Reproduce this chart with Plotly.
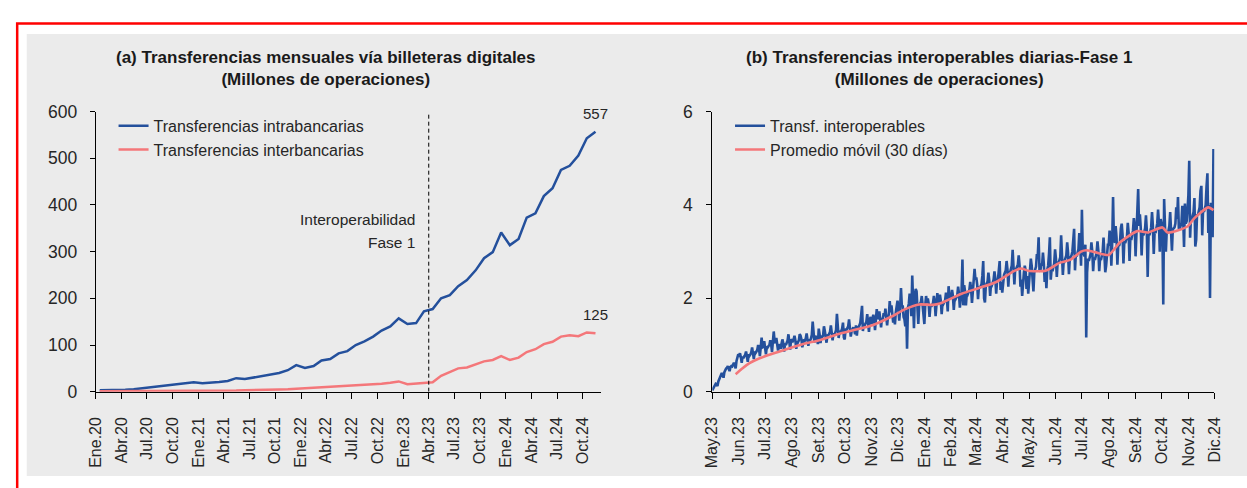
import pandas as pd
import plotly.graph_objects as go

W, H = 1247, 488
FONT = "Liberation Sans, Arial, sans-serif"
BLUE = "#24509c"
RED = "#f4777a"
TXT = "#262626"

# ---------------- Panel (a): monthly, Jan 2020 - Nov 2024 ----------------
intra_2020 = [3, 3, 3, 4, 5, 7, 9, 11, 13, 15, 17, 20]
intra_2021 = [18, 19, 21, 23, 29, 27, 30, 34, 37, 40, 46, 57]
intra_2022 = [51, 55, 67, 70, 82, 87, 100, 108, 118, 131, 140, 157]
intra_2023 = [145, 147, 172, 177, 200, 207, 226, 239, 260, 286, 299, 341]
intra_2024 = [314, 327, 373, 382, 419, 436, 475, 484, 506, 543, 557]

inter_2020 = [1, 1, 1, 1, 1, 1, 1, 1, 1, 1.5, 1.5, 2]
inter_2021 = [2, 2, 2, 2.5, 2.5, 3, 3, 3.5, 4, 4.5, 5, 6]
inter_2022 = [7, 8, 9, 10, 11, 12, 13, 14, 16, 17, 19, 22]
inter_2023 = [16, 17, 18, 20, 34, 43, 50, 52, 58, 65, 68, 76]
inter_2024 = [68, 73, 85, 91, 102, 107, 118, 121, 119, 127, 125]

intra = intra_2020 + intra_2021 + intra_2022 + intra_2023 + intra_2024
inter = inter_2020 + inter_2021 + inter_2022 + inter_2023 + inter_2024
# monthly points are plotted at mid-month
months_a = pd.date_range("2020-01-01", periods=len(intra), freq="MS") + pd.Timedelta(days=14)

ticklabels_a = ["Ene.20", "Abr.20", "Jul.20", "Oct.20", "Ene.21", "Abr.21", "Jul.21", "Oct.21",
                "Ene.22", "Abr.22", "Jul.22", "Oct.22", "Ene.23", "Abr.23", "Jul.23", "Oct.23",
                "Ene.24", "Abr.24", "Jul.24", "Oct.24"]
tickvals_a = pd.date_range("2020-01-01", periods=len(ticklabels_a), freq="3MS")
interop_date = "2023-04-01"

# ---------------- Panel (b): daily, May 2023 - Nov 2024 ----------------
d_2023_05 = [0.03, 0.07, 0.10, 0.14, 0.17, 0.16, 0.12, 0.22, 0.26, 0.30,
             0.37, 0.40, 0.36, 0.30, 0.42, 0.47, 0.50, 0.51, 0.55, 0.49,
             0.44, 0.53, 0.55, 0.54, 0.58, 0.62, 0.57, 0.50, 0.66, 0.78, 0.80]
d_2023_06 = [0.78, 0.82, 0.74, 0.62, 0.75, 0.72, 0.76, 0.79, 0.86, 0.78,
             0.64, 0.80, 0.77, 0.80, 0.84, 0.95, 0.85, 0.70, 0.86, 0.83,
             0.86, 0.90, 1.00, 0.92, 0.76, 0.92, 1.16, 0.95, 0.96, 1.08]
d_2023_07 = [0.98, 0.80, 0.97, 0.95, 0.98, 1.00, 1.10, 1.02, 0.85, 1.05,
             1.29, 1.08, 1.04, 1.15, 1.05, 0.88, 1.02, 0.98, 0.92, 1.03,
             1.12, 1.04, 0.86, 1.03, 1.00, 1.05, 1.10, 1.23, 1.02, 0.90, 1.12]
d_2023_08 = [1.10, 1.08, 1.12, 1.20, 1.10, 0.92, 1.08, 1.06, 1.10, 1.23,
             1.20, 1.12, 0.95, 1.10, 1.12, 1.10, 1.14, 1.25, 1.15, 0.98,
             1.12, 1.10, 1.14, 1.22, 1.50, 1.30, 1.05, 1.20, 1.15, 1.12, 1.02]
d_2023_09 = [1.35, 1.22, 1.04, 1.20, 1.17, 1.20, 1.40, 1.30, 1.20, 1.05,
             1.22, 1.20, 1.24, 1.28, 1.42, 1.28, 1.10, 1.25, 1.22, 1.26,
             1.32, 1.67, 1.38, 1.15, 1.30, 1.27, 1.30, 1.35, 1.48, 1.16]
d_2023_10 = [1.12, 1.35, 1.32, 1.36, 1.40, 1.55, 1.40, 1.18, 1.30, 1.34,
             1.38, 1.32, 1.23, 1.42, 1.20, 1.40, 1.38, 1.42, 1.48, 1.65,
             1.84, 1.30, 1.45, 1.42, 1.46, 1.50, 1.66, 1.50, 1.28, 1.55, 1.60]
d_2023_11 = [1.45, 1.52, 1.65, 1.55, 1.32, 1.55, 1.77, 1.56, 1.58, 1.72,
             1.60, 1.38, 1.58, 1.55, 1.68, 1.62, 1.78, 1.65, 1.42, 1.62,
             1.65, 1.94, 1.70, 1.85, 1.70, 1.48, 1.62, 1.44, 1.70, 1.82]
d_2023_12 = [1.95, 1.80, 1.52, 1.78, 2.22, 1.82, 1.85, 1.60, 1.55, 1.40,
             1.75, 0.92, 1.80, 1.88, 2.10, 1.95, 1.62, 2.49, 2.00, 1.36,
             2.05, 2.20, 2.15, 1.80, 1.45, 1.85, 1.88, 1.92, 2.05, 1.85, 1.60]
d_2024_01 = [1.45, 1.85, 2.05, 1.90, 2.00, 1.88, 1.60, 1.85, 1.82, 1.86,
             1.90, 2.05, 1.92, 1.62, 1.81, 2.11, 1.88, 1.92, 2.08, 1.95,
             1.66, 1.90, 1.88, 1.92, 1.96, 2.12, 2.00, 1.72, 2.26, 2.02, 2.05]
d_2024_02 = [2.00, 2.18, 2.05, 1.75, 2.00, 1.98, 2.02, 2.06, 2.25, 2.10,
             1.80, 2.05, 2.15, 2.83, 1.85, 2.28, 2.15, 1.85, 2.10, 2.08,
             2.12, 2.18, 2.35, 2.20, 1.90, 2.15, 2.20, 2.63, 2.40]
d_2024_03 = [2.45, 2.30, 1.98, 2.25, 2.22, 2.26, 2.30, 2.48, 2.80, 2.00,
             1.91, 2.28, 2.32, 2.36, 2.55, 2.38, 2.05, 2.30, 2.28, 2.34,
             2.40, 2.58, 2.42, 2.10, 2.38, 2.40, 2.55, 2.80, 2.18, 2.35, 2.12]
d_2024_04 = [2.45, 2.50, 2.55, 2.60, 2.80, 2.62, 2.25, 2.58, 2.55, 2.62,
             2.70, 3.04, 2.75, 2.30, 2.65, 2.62, 2.68, 2.72, 2.92, 2.70,
             2.25, 2.40, 2.05, 2.45, 2.55, 2.70, 2.60, 2.20, 2.48, 2.10]
d_2024_05 = [2.30, 2.65, 2.85, 2.70, 2.30, 2.15, 2.55, 2.60, 2.68, 2.95,
             2.90, 3.31, 2.60, 2.58, 2.75, 2.70, 2.98, 2.75, 2.35, 2.60,
             2.22, 2.62, 2.70, 2.95, 3.31, 2.40, 2.62, 2.58, 2.65, 2.75, 3.05]
d_2024_06 = [2.85, 2.46, 2.78, 2.75, 2.80, 2.88, 3.35, 2.95, 2.50, 2.82,
             2.80, 2.86, 2.92, 3.20, 2.98, 2.52, 2.85, 2.88, 2.92, 3.00,
             3.30, 3.49, 2.60, 2.95, 2.90, 2.98, 3.05, 3.40, 3.20, 2.70]
d_2024_07 = [3.90, 3.00, 2.95, 2.90, 3.15, 1.16, 2.55, 2.85, 2.80, 2.90,
             2.95, 3.20, 3.00, 2.58, 2.88, 2.82, 2.90, 2.98, 3.22, 3.02,
             2.58, 2.85, 2.82, 2.92, 3.00, 3.30, 2.95, 2.56, 2.70, 2.95, 3.15]
d_2024_08 = [3.15, 3.45, 3.25, 2.70, 3.20, 4.17, 3.20, 3.22, 3.55, 3.30,
             2.72, 3.15, 3.12, 3.20, 3.50, 3.60, 3.35, 2.75, 3.22, 3.18,
             3.25, 3.30, 3.62, 3.40, 2.80, 3.30, 3.25, 3.35, 3.45, 3.72, 3.55]
d_2024_09 = [2.90, 3.40, 3.50, 4.34, 3.55, 3.80, 3.50, 2.92, 3.40, 3.35,
             3.42, 3.50, 3.78, 3.45, 2.46, 3.38, 3.35, 3.45, 3.52, 3.85,
             3.55, 2.95, 3.42, 3.40, 3.48, 3.60, 3.90, 3.60, 3.00, 3.70]
d_2024_10 = [3.60, 3.45, 1.87, 4.13, 3.55, 3.00, 3.45, 3.40, 3.45, 3.55,
             3.85, 3.55, 3.02, 3.48, 3.50, 3.52, 3.60, 3.95, 3.70, 4.17,
             3.50, 3.48, 3.55, 3.62, 3.98, 3.70, 3.10, 4.03, 3.60, 3.65, 3.90]
d_2024_11 = [4.20, 4.95, 3.30, 3.75, 3.70, 3.78, 3.85, 4.15, 3.11, 3.25,
             3.80, 3.78, 3.85, 3.95, 4.30, 4.41, 3.35, 3.90, 3.85, 3.92,
             4.00, 4.40, 4.68, 3.40, 4.00, 2.01, 4.05, 3.95, 3.31, 5.20]

daily = (d_2023_05 + d_2023_06 + d_2023_07 + d_2023_08 + d_2023_09 + d_2023_10 +
         d_2023_11 + d_2023_12 + d_2024_01 + d_2024_02 + d_2024_03 + d_2024_04 +
         d_2024_05 + d_2024_06 + d_2024_07 + d_2024_08 + d_2024_09 + d_2024_10 + d_2024_11)
days_b = pd.date_range("2023-05-01", periods=len(daily), freq="D")

ma_dates = ["2023-05-28", "2023-06-05", "2023-06-13", "2023-06-24", "2023-07-04", "2023-07-24",
            "2023-08-14", "2023-09-03", "2023-09-23", "2023-10-14", "2023-11-03", "2023-11-23",
            "2023-12-10", "2023-12-26", "2024-01-11", "2024-01-19", "2024-02-13", "2024-03-04",
            "2024-03-24", "2024-04-14", "2024-04-22", "2024-04-30", "2024-05-20", "2024-06-05",
            "2024-06-18", "2024-06-30", "2024-07-06", "2024-07-16", "2024-08-01", "2024-08-14",
            "2024-09-03", "2024-09-15", "2024-10-02", "2024-10-08", "2024-10-31", "2024-11-08",
            "2024-11-24", "2024-11-30"]
ma_vals = [0.375, 0.50, 0.61, 0.71, 0.78, 0.90,
           1.02, 1.11, 1.23, 1.33, 1.43, 1.60,
           1.77, 1.87, 1.86, 1.89, 2.10, 2.22,
           2.35, 2.59, 2.64, 2.59, 2.59, 2.76,
           2.83, 3.00, 3.03, 2.99, 2.93, 3.20,
           3.44, 3.41, 3.52, 3.41, 3.54, 3.72,
           3.95, 3.89]

ticklabels_b = ["May.23", "Jun.23", "Jul.23", "Ago.23", "Set.23", "Oct.23", "Nov.23", "Dic.23",
                "Ene.24", "Feb.24", "Mar.24", "Abr.24", "May.24", "Jun.24", "Jul.24", "Ago.24",
                "Set.24", "Oct.24", "Nov.24", "Dic.24"]
tickvals_b = pd.date_range("2023-05-01", periods=len(ticklabels_b), freq="MS")


# ---------------- helpers: page pixel -> paper fraction ----------------
def px_x(p):
    return p / W


def px_y(p):
    return 1 - p / H


fig = go.Figure()
fig.add_trace(go.Scatter(x=months_a, y=intra, mode="lines", name="Transferencias intrabancarias",
                         line=dict(color=BLUE, width=2.5), xaxis="x", yaxis="y", legend="legend"))
fig.add_trace(go.Scatter(x=months_a, y=inter, mode="lines", name="Transferencias interbancarias",
                         line=dict(color=RED, width=2.5), xaxis="x", yaxis="y", legend="legend"))
fig.add_trace(go.Scatter(x=days_b, y=daily, mode="lines", name="Transf. interoperables",
                         line=dict(color=BLUE, width=2.6), xaxis="x2", yaxis="y2", legend="legend2"))
fig.add_trace(go.Scatter(x=ma_dates, y=ma_vals, mode="lines", name="Promedio móvil (30 días)",
                         line=dict(color=RED, width=2.6, shape="spline", smoothing=0.6),
                         xaxis="x2", yaxis="y2", legend="legend2"))

ydom = [px_y(398), px_y(106)]
xtickfont = dict(family=FONT, size=16, color=TXT)
ytickfont = dict(family=FONT, size=17.5, color=TXT)
axis_common = dict(showline=True, linecolor="black", linewidth=1, ticks="outside",
                   tickcolor="black", tickwidth=1, showgrid=False, zeroline=False)
legend_font = dict(family=FONT, size=16, color=TXT)

fig.update_layout(
    width=W, height=H,
    margin=dict(l=0, r=0, t=0, b=0),
    paper_bgcolor="white", plot_bgcolor="rgba(0,0,0,0)",
    showlegend=True,
    xaxis=dict(domain=[px_x(88), px_x(600)], anchor="y", type="date",
               range=["2020-01-01", "2024-12-04"], tickmode="array",
               tickvals=tickvals_a, ticktext=ticklabels_a, tickangle=-90, ticklen=6,
               ticklabelstandoff=12, tickfont=xtickfont, **axis_common),
    yaxis=dict(domain=ydom, anchor="x", range=[0, 600], dtick=100, ticklen=5,
               ticklabelstandoff=9, tickfont=ytickfont, **axis_common),
    xaxis2=dict(domain=[px_x(713), px_x(1222)], anchor="y2", type="date",
                range=["2023-05-01", "2024-12-01"], tickmode="array",
                tickvals=tickvals_b, ticktext=ticklabels_b, tickangle=-90, ticklen=6,
                ticklabelstandoff=12, tickfont=xtickfont, **axis_common),
    yaxis2=dict(domain=ydom, anchor="x2", range=[0, 6], dtick=2, ticklen=5,
                ticklabelstandoff=10, tickfont=ytickfont, **axis_common),
    legend=dict(x=px_x(106), y=px_y(103), xanchor="left", yanchor="top",
                bgcolor="rgba(0,0,0,0)", font=legend_font, tracegroupgap=0, itemwidth=30),
    legend2=dict(x=px_x(731), y=px_y(103), xanchor="left", yanchor="top",
                 bgcolor="rgba(0,0,0,0)", font=legend_font, tracegroupgap=0, itemwidth=30),
)

shapes = [
    # grey panel
    dict(type="rect", xref="paper", yref="paper", x0=px_x(18), x1=1.02, y0=px_y(486), y1=px_y(25),
         fillcolor="#ebebeb", line=dict(width=0), layer="below"),
    # red frame
    dict(type="rect", xref="paper", yref="paper", x0=px_x(8.3), x1=1.05, y0=-0.1, y1=px_y(14),
         fillcolor="rgba(0,0,0,0)", line=dict(color="#ff0000", width=2.5), layer="above"),
    # interoperability line
    dict(type="line", xref="x", yref="y", x0=interop_date, x1=interop_date, y0=0, y1=600,
         line=dict(color="black", width=1, dash="4px,3px")),
]
fig.update_layout(shapes=shapes)

ann_font = dict(family=FONT, size=15.5, color=TXT)
end_font = dict(family=FONT, size=15, color=TXT)
title_font = dict(family=FONT, size=17, color="#1a1a1a", weight="bold")
annotations = [
    dict(xref="paper", yref="paper", x=px_x(321), y=px_y(61), xanchor="center", yanchor="middle",
         text="(a) Transferencias mensuales vía billeteras digitales<br>(Millones de operaciones)",
         showarrow=False, font=title_font),
    dict(xref="paper", yref="paper", x=px_x(943), y=px_y(61), xanchor="center", yanchor="middle",
         text="(b) Transferencias interoperables diarias-Fase 1<br>(Millones de operaciones)",
         showarrow=False, font=title_font),
    dict(xref="x", yref="y", x=months_a[-1], y=intra[-1], text=f"{intra[-1]}", showarrow=False,
         xanchor="center", yanchor="bottom", yshift=8, font=end_font),
    dict(xref="x", yref="y", x=months_a[-1], y=inter[-1], text=f"{inter[-1]}", showarrow=False,
         xanchor="center", yanchor="bottom", yshift=8, font=end_font),
    dict(xref="x", yref="y", x=interop_date, y=370, text="Interoperabilidad", showarrow=False,
         xanchor="right", yanchor="middle", xshift=-12, font=ann_font),
    dict(xref="x", yref="y", x=interop_date, y=320, text="Fase 1", showarrow=False,
         xanchor="right", yanchor="middle", xshift=-12, font=ann_font),
]
fig.update_layout(annotations=annotations)

fig.write_html("out.html", config={"displayModeBar": False},
               post_script="document.body.style.margin='0';document.documentElement.style.overflow='hidden';")
